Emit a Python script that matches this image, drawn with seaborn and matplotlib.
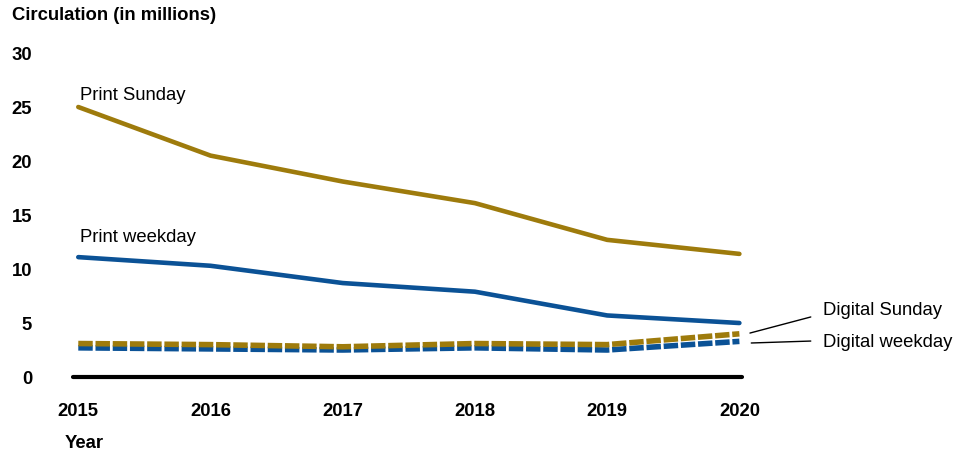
import numpy as np
import pandas as pd
import matplotlib
matplotlib.use('Agg')
import matplotlib.pyplot as plt
import seaborn as sns

years = [2015, 2016, 2017, 2018, 2019, 2020]
print_sunday = [25.0, 20.5, 18.1, 16.1, 12.7, 11.4]
print_weekday = [11.1, 10.3, 8.7, 7.9, 5.7, 5.0]
digital_sunday = [3.1, 3.0, 2.8, 3.1, 3.0, 4.0]
digital_weekday = [2.7, 2.6, 2.5, 2.7, 2.5, 3.3]
series_names = ['Print Sunday', 'Print weekday', 'Digital Sunday', 'Digital weekday']

GOLD = '#9E7B0C'
BLUE = '#0B5296'

df = pd.DataFrame({
    'year': years * 4,
    'value': print_sunday + print_weekday + digital_sunday + digital_weekday,
    'series': [s for s in series_names for _ in years],
})

sns.set_theme(style='white')
plt.rcParams['font.family'] = ['Liberation Sans', 'DejaVu Sans']
plt.rcParams['text.color'] = 'black'
plt.rcParams['xtick.color'] = 'black'
plt.rcParams['ytick.color'] = 'black'

fig = plt.figure(figsize=(9.72, 4.55), dpi=100)
ax = fig.add_axes([0.0751, 0.1714, 0.6883, 0.7121])

palette = {'Print Sunday': GOLD, 'Print weekday': BLUE,
           'Digital Sunday': GOLD, 'Digital weekday': BLUE}
dashes = {'Print Sunday': '', 'Print weekday': '',
          'Digital Sunday': (2.6, 0.5), 'Digital weekday': (2.6, 0.5)}
sizes = {'Print Sunday': 3.3, 'Print weekday': 3.3,
         'Digital Sunday': 4.0, 'Digital weekday': 4.0}

sns.lineplot(data=df, x='year', y='value', hue='series', style='series', size='series',
             hue_order=['Digital weekday', 'Digital Sunday', 'Print weekday', 'Print Sunday'],
             palette=palette, dashes=dashes, sizes=sizes, legend=False, ax=ax,
             solid_capstyle='round')

ax.axhline(0, color='black', lw=3, clip_on=False, zorder=1)

ax.set_xlim(2014.96, 2020.02)
ax.set_ylim(0, 30)
ax.set_yticks([0, 5, 10, 15, 20, 25, 30])
ax.set_xticks(years)
ax.tick_params(axis='y', length=0, pad=29.5, labelsize=13.3)
ax.tick_params(axis='x', length=0, pad=19, labelsize=13.3)
for lab in ax.get_xticklabels() + ax.get_yticklabels():
    lab.set_fontweight('bold')
    lab.set_color('black')
ax.set_xlabel('')
ax.set_ylabel('')
for sp in ax.spines.values():
    sp.set_visible(False)
ax.grid(False)

fig.text(12 / 972, 1 - 15 / 455, 'Circulation (in millions)', fontsize=13.3,
         fontweight='bold', ha='left', va='center')
fig.text(65 / 972, 1 - 444 / 455, 'Year', fontsize=13.3, fontweight='bold',
         ha='left', va='center')

ax.text(2015.01, 26.1, 'Print Sunday', fontsize=13.3, ha='left', va='center')
ax.text(2015.01, 12.9, 'Print weekday', fontsize=13.3, ha='left', va='center')
ax.text(2020.63, 6.2, 'Digital Sunday', fontsize=13.3, ha='left', va='center', clip_on=False)
ax.text(2020.63, 3.24, 'Digital weekday', fontsize=13.3, ha='left', va='center', clip_on=False)
ax.plot([2020.08, 2020.54], [4.07, 5.56], color='black', lw=1, clip_on=False)
ax.plot([2020.09, 2020.54], [3.15, 3.33], color='black', lw=1, clip_on=False)

fig.savefig('out.png', dpi=100)
